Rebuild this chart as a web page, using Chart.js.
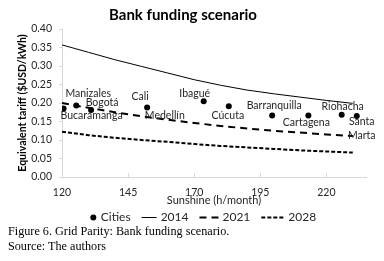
<!DOCTYPE html>
<html>
<head>
<meta charset="utf-8">
<script src="https://cdn.jsdelivr.net/npm/chart.js@4.4.1/dist/chart.umd.min.js"></script>
<style>
    html, body { margin: 0; padding: 0; background: #fff; }
    #wrap { position: relative; width: 384px; height: 261px; overflow: hidden; }
    #wrap canvas { position: absolute; left: 0; top: 0; }
    .cap {
        position: absolute; left: 8px;
        font-family: "Liberation Serif", "Times New Roman", serif;
        font-size: 12.2px; line-height: 1; color: #000; white-space: nowrap;
    }
</style>
</head>
<body>
<div id="wrap">
    <canvas id="chart" width="384" height="261"></canvas>
    <div class="cap" style="top:225px">Figure 6. Grid Parity: Bank funding scenario.</div>
    <div class="cap" style="top:240px">Source: The authors</div>
</div>
<script>
// curves (every 10 h/month)
const sunshine   = [120, 130, 140, 150, 160, 170, 180, 190, 200, 210, 220, 230];
const tariff2014 = [0.357, 0.337, 0.317, 0.299, 0.281, 0.263, 0.248, 0.235, 0.225, 0.216, 0.207, 0.199];
const tariff2021 = [0.200, 0.187, 0.175, 0.164, 0.155, 0.146, 0.138, 0.131, 0.125, 0.120, 0.115, 0.111];
const tariff2028 = [0.122, 0.113, 0.106, 0.100, 0.095, 0.089, 0.084, 0.080, 0.076, 0.072, 0.069, 0.066];

// cities
const cityNames    = ['Bucaramanga', 'Manizales', 'Bogotá', 'Cali', 'Medellín', 'Ibagué', 'Cúcuta', 'Barranquilla', 'Cartagena', 'Riohacha', 'Santa Marta'];
const citySunshine = [120.6, 125.4, 131.0, 152.2, 157.0, 173.6, 183.1, 199.5, 213.2, 225.8, 231.5];
const cityTariff   = [0.185, 0.193, 0.181, 0.188, 0.157, 0.205, 0.191, 0.166, 0.166, 0.168, 0.165];

const xTicks = [120, 145, 170, 195, 220];
const yTicks = [0, 0.05, 0.10, 0.15, 0.20, 0.25, 0.30, 0.35, 0.40];

// label placement (px from the dot), dots not visible in the original
const labelOffsets = {
    'Bucaramanga': [28, 7], 'Manizales': [12, -12], 'Bogotá': [11, -7], 'Cali': [-7, -11],
    'Medellín': [5, -3], 'Ibagué': [-9, -8], 'Cúcuta': [-1, 9], 'Barranquilla': [2, -10],
    'Cartagena': [-2, 7], 'Riohacha': [1, -8], 'Santa Marta': [5, 6]
};
const wrapLabels = ['Santa Marta'];
const hiddenDots = ['Medellín'];

const FONT = 'Lato, "Open Sans", sans-serif';
const TEXT = '#262626';
const AXIS = '#d9d9d9';

const pts = (xs, ys) => xs.map((x, i) => ({ x, y: ys[i] }));

const cityLabels = {
    id: 'cityLabels',
    afterDatasetsDraw(chart) {
        const meta = chart.getDatasetMeta(0);
        const c = chart.ctx;
        c.save();
        c.font = '10.5px ' + FONT;
        c.fillStyle = TEXT;
        c.textAlign = 'center';
        c.textBaseline = 'middle';
        meta.data.forEach((pt, i) => {
            const name = cityNames[i];
            const [dx, dy] = labelOffsets[name] || [0, -10];
            const lines = wrapLabels.includes(name) ? name.split(' ') : [name];
            lines.forEach((ln, k) => c.fillText(ln, pt.x + dx, pt.y + dy + k * 13.5));
        });
        c.restore();
    }
};

// Excel style tick marks pointing into the plot on the x axis
const xInsideTicks = {
    id: 'xInsideTicks',
    afterDraw(chart) {
        const sx = chart.scales.x;
        const c = chart.ctx;
        c.save();
        c.strokeStyle = AXIS;
        c.lineWidth = 1;
        xTicks.forEach(v => {
            const px = Math.round(sx.getPixelForValue(v)) + 0.5;
            c.beginPath();
            c.moveTo(px, sx.top);
            c.lineTo(px, sx.top - 4);
            c.stroke();
        });
        c.restore();
    }
};

const legendRow = {
    id: 'legendRow',
    afterDraw(chart) {
        const c = chart.ctx;
        const symW = [7, 15, 19, 23];
        const gap = 4, spacing = 11, cy = 217.5, cx = 203;
        c.save();
        c.font = '12px ' + FONT;
        c.textBaseline = 'middle';
        c.fillStyle = TEXT;
        const ds = chart.data.datasets;
        const widths = ds.map((d, i) => symW[i] + gap + c.measureText(d.label).width);
        const total = widths.reduce((a, b) => a + b, 0) + spacing * (ds.length - 1);
        let x = cx - total / 2;
        ds.forEach((d, i) => {
            if (i === 0) {
                c.beginPath();
                c.arc(x + symW[0] / 2, cy, 3, 0, Math.PI * 2);
                c.fillStyle = d.backgroundColor;
                c.fill();
            } else {
                c.beginPath();
                c.setLineDash(d.borderDash || []);
                c.lineWidth = d.borderWidth;
                c.strokeStyle = d.borderColor;
                c.moveTo(x, cy);
                c.lineTo(x + symW[i], cy);
                c.stroke();
                c.setLineDash([]);
            }
            c.fillStyle = TEXT;
            c.fillText(d.label, x + symW[i] + gap, cy);
            x += widths[i] + spacing;
        });
        c.restore();
    }
};

new Chart(document.getElementById('chart').getContext('2d'), {
    type: 'scatter',
    data: {
        datasets: [
            {
                label: 'Cities',
                data: pts(citySunshine, cityTariff),
                backgroundColor: '#000',
                borderColor: '#000',
                pointRadius: ctx => hiddenDots.includes(cityNames[ctx.dataIndex]) ? 0 : 3,
                pointBorderWidth: 0
            },
            {
                label: '2014',
                data: pts(sunshine, tariff2014),
                showLine: true, pointRadius: 0,
                borderColor: '#000', borderWidth: 1
            },
            {
                label: '2021',
                data: pts(sunshine, tariff2021),
                showLine: true, pointRadius: 0,
                borderColor: '#000', borderWidth: 2, borderDash: [7, 5]
            },
            {
                label: '2028',
                data: pts(sunshine, tariff2028),
                showLine: true, pointRadius: 0,
                borderColor: '#000', borderWidth: 2, borderDash: [4, 2]
            }
        ]
    },
    options: {
        responsive: false,
        animation: false,
        layout: { padding: { left: 0, right: 18, top: 0, bottom: 53 } },
        plugins: {
            legend: { display: false },
            tooltip: { enabled: false },
            title: {
                display: true,
                text: 'Bank funding scenario',
                color: '#000',
                font: { family: FONT, size: 15, weight: 'bold' },
                padding: { top: 6, bottom: 5 }
            }
        },
        scales: {
            x: {
                type: 'linear', min: 120, max: 235,
                afterBuildTicks: s => { s.ticks = xTicks.map(v => ({ value: v })); },
                afterFit: s => { s.height = 31; },
                grid: { display: false },
                border: { color: AXIS },
                ticks: { padding: 1, maxRotation: 0, color: TEXT, font: { family: FONT, size: 10.5 } },
                title: {
                    display: true, text: 'Sunshine (h/month)', color: TEXT,
                    font: { family: FONT, size: 11 }, padding: { top: 0, bottom: 1 }
                }
            },
            y: {
                min: 0, max: 0.4,
                afterBuildTicks: s => { s.ticks = yTicks.map(v => ({ value: v })); },
                afterFit: s => { s.width = 62; },
                grid: { drawOnChartArea: false, tickLength: 3, color: AXIS },
                border: { color: AXIS },
                ticks: { padding: 7, color: TEXT, font: { family: FONT, size: 10.5 }, callback: v => v.toFixed(2) },
                title: {
                    display: true, text: 'Equivalent tariff ($USD/kWh)', color: '#000',
                    font: { family: FONT, size: 10.5, weight: 'bold' }, padding: { top: 16, bottom: 0 }
                }
            }
        }
    },
    plugins: [cityLabels, xInsideTicks, legendRow]
});
</script>
</body>
</html>
